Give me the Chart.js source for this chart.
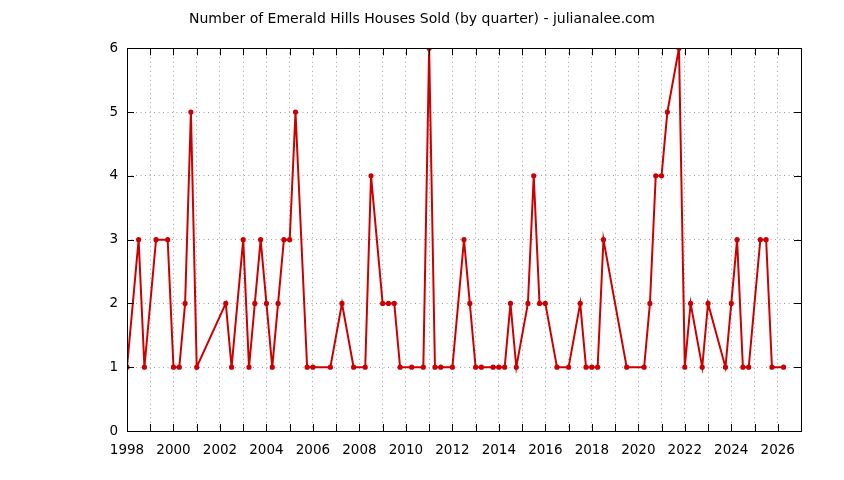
<!DOCTYPE html>
<html>
<head>
<meta charset="utf-8">
<title>Emerald Hills Houses Sold</title>
<script src="https://cdn.jsdelivr.net/npm/chart.js@4.4.1/dist/chart.umd.min.js"></script>
<style>
  html, body { margin: 0; padding: 0; background: #fff; }
</style>
</head>
<body>
<canvas id="myChart" width="844" height="480"></canvas>
<script>
// quarter positions as decimal years, and houses sold in that quarter
const quarters = [
  1998.00, 1998.50, 1998.75, 1999.25, 1999.75, 2000.00, 2000.25, 2000.50, 2000.75, 2001.00,
  2002.25, 2002.50, 2003.00, 2003.25, 2003.50, 2003.75, 2004.00, 2004.25, 2004.50, 2004.75,
  2005.00, 2005.25, 2005.75, 2006.00, 2006.75, 2007.25, 2007.75, 2008.25, 2008.50, 2009.00,
  2009.25, 2009.50, 2009.75, 2010.25, 2010.75, 2011.00, 2011.25, 2011.50, 2012.00, 2012.50,
  2012.75, 2013.00, 2013.25, 2013.75, 2014.00, 2014.25, 2014.50, 2014.75, 2015.25, 2015.50,
  2015.75, 2016.00, 2016.50, 2017.00, 2017.50, 2017.75, 2018.00, 2018.25, 2018.50, 2019.50,
  2020.25, 2020.50, 2020.75, 2021.00, 2021.25, 2021.75, 2022.00, 2022.25, 2022.75, 2023.00,
  2023.75, 2024.00, 2024.25, 2024.50, 2024.75, 2025.25, 2025.50, 2025.75, 2026.25
];
const sold = [
  1, 3, 1, 3, 3, 1, 1, 2, 5, 1,
  2, 1, 3, 1, 2, 3, 2, 1, 2, 3,
  3, 5, 1, 1, 1, 2, 1, 1, 4, 2,
  2, 2, 1, 1, 1, 6, 1, 1, 1, 3,
  2, 1, 1, 1, 1, 1, 2, 1, 2, 4,
  2, 2, 1, 1, 2, 1, 1, 1, 3, 1,
  1, 2, 4, 4, 5, 6, 1, 2, 1, 2,
  1, 2, 3, 1, 1, 3, 3, 1, 1
];
const yearMin = 1998;
const yearMax = 2027;
const soldMin = 0;
const soldMax = 6;

const lineRed = '#cc0000';
const gridGrey = '#a0a0a0';
const tickFont = { family: 'DejaVu Sans', size: 13.5 };

// gnuplot style frame with inward ticks on all four sides
const framePlugin = {
  id: 'frame',
  afterDraw(chart) {
    const ctx = chart.ctx;
    const a = chart.chartArea;
    const x = chart.scales.x;
    const y = chart.scales.y;
    const len = 7;
    ctx.save();
    ctx.strokeStyle = '#000';
    ctx.lineWidth = 1;
    ctx.beginPath();
    x.ticks.forEach(t => {
      const px = Math.round(x.getPixelForValue(t.value)) + 0.5;
      ctx.moveTo(px, a.bottom);
      ctx.lineTo(px, a.bottom - len);
      ctx.moveTo(px, a.top);
      ctx.lineTo(px, a.top + len);
    });
    y.ticks.forEach(t => {
      const py = Math.round(y.getPixelForValue(t.value)) + 0.5;
      ctx.moveTo(a.left, py);
      ctx.lineTo(a.left + len, py);
      ctx.moveTo(a.right, py);
      ctx.lineTo(a.right - len, py);
    });
    ctx.stroke();
    ctx.strokeRect(Math.round(a.left) + 0.5, Math.round(a.top) + 0.5,
      Math.round(a.right - a.left), Math.round(a.bottom - a.top));
    ctx.restore();
  }
};

const points = quarters.map((q, i) => ({ x: q, y: sold[i] }));

const config = {
  type: 'line',
  data: {
    datasets: [{
      data: points,
      borderColor: lineRed,
      backgroundColor: lineRed,
      borderWidth: 2,
      pointRadius: 1.6,
      pointHoverRadius: 1.6,
      tension: 0,
      fill: false,
    }]
  },
  options: {
    responsive: false,
    animation: false,
    scales: {
      x: {
        type: 'linear',
        min: yearMin,
        max: yearMax,
        afterFit: (s) => { s.height = 49; },
        ticks: {
          stepSize: 1,
          autoSkip: false,
          maxRotation: 0,
          padding: 11,
          color: '#000',
          font: tickFont,
          callback: (v) => (v % 2 === 0 && v < yearMax) ? String(v) : '',
        },
        grid: {
          color: gridGrey,
          lineWidth: 1,
          drawTicks: false,
        },
        border: { display: false, dash: [1, 3.5] },
      },
      y: {
        min: soldMin,
        max: soldMax,
        afterFit: (s) => { s.width = 127; },
        ticks: {
          stepSize: 1,
          padding: 9,
          color: '#000',
          font: tickFont,
        },
        grid: {
          color: gridGrey,
          lineWidth: 1,
          drawTicks: false,
        },
        border: { display: false, dash: [1, 3.5] },
      },
      // empty right axis, only keeps the margin so the title stays centred on the page
      yRight: {
        position: 'right',
        min: soldMin,
        max: soldMax,
        afterFit: (s) => { s.width = 43; },
        ticks: { display: false },
        grid: { display: false },
        border: { display: false },
      },
    },
    plugins: {
      legend: { display: false },
      tooltip: { enabled: false },
      title: {
        display: true,
        text: 'Number of Emerald Hills Houses Sold (by quarter) - julianalee.com',
        color: '#000',
        font: { family: 'DejaVu Sans', size: 14, weight: 'normal', lineHeight: 1.2 },
        padding: { top: 11, bottom: 20.5 },
      },
    },
  },
  plugins: [framePlugin],
};

const myChart = new Chart(document.getElementById('myChart'), config);
</script>
</body>
</html>
